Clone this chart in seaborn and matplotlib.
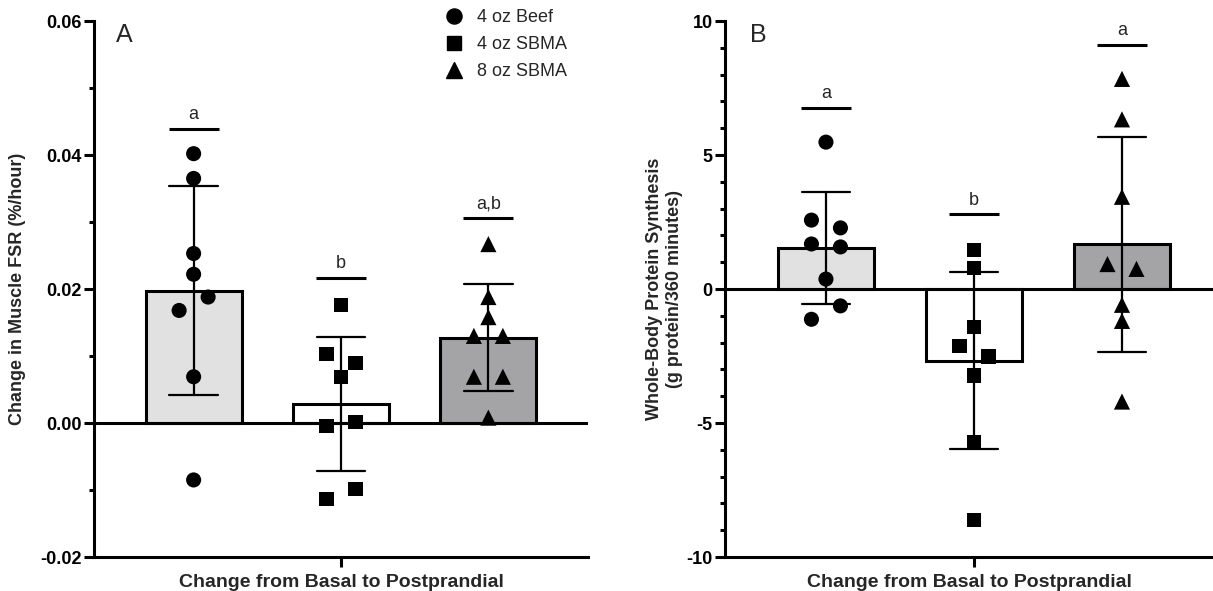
import numpy as np
import pandas as pd
import matplotlib
matplotlib.use("Agg")
import matplotlib.pyplot as plt
from matplotlib.ticker import MultipleLocator, FormatStrFormatter
from matplotlib.lines import Line2D
import seaborn as sns

# ---------------- data ----------------
groups = ["4 oz Beef", "4 oz SBMA", "8 oz SBMA"]

# Panel A: change in muscle FSR (%/hour)
fsr_beef = [0.0402, 0.0365, 0.0253, 0.0222, 0.0168, 0.0188, 0.0069, -0.0085]
fsr_sbma4 = [0.0176, 0.0103, 0.0090, 0.0069, -0.0004, 0.0002, -0.0113, -0.0098]
fsr_sbma8 = [0.0267, 0.0188, 0.0158, 0.0130, 0.0130, 0.0069, 0.0069, 0.0008]

# Panel B: whole-body protein synthesis (g protein/360 minutes)
wb_beef = [5.48, 2.57, 2.28, 1.68, 1.57, 0.37, -1.13, -0.63]
wb_sbma4 = [1.47, 0.77, -1.43, -2.12, -2.52, -3.23, -5.72, -8.63]
wb_sbma8 = [7.84, 6.33, 3.44, 0.93, 0.75, -0.59, -1.19, -4.20]

# significance letters and the height of their bars
letters_A = ["a", "b", "a,b"]
letter_y_A = [0.0439, 0.0217, 0.0306]
letters_B = ["a", "b", "a"]
letter_y_B = [6.76, 2.79, 9.12]

ylabel_A = "Change in Muscle FSR (%/hour)"
ylabel_B = "Whole-Body Protein Synthesis\n(g protein/360 minutes)"
xlabel = "Change from Basal to Postprandial"

# ---------------- style ----------------
sns.set_theme(style="ticks")
plt.rcParams["font.family"] = ["Liberation Sans", "DejaVu Sans"]
plt.rcParams["axes.unicode_minus"] = False

bar_colors = {"4 oz Beef": "#e1e1e1", "4 oz SBMA": "#ffffff", "8 oz SBMA": "#a4a4a7"}
markers = {"4 oz Beef": "o", "4 oz SBMA": "s", "8 oz SBMA": "^"}
msizes = {"4 oz Beef": 118, "4 oz SBMA": 104, "8 oz SBMA": 135}

W, H = 1213, 591
fig = plt.figure(figsize=(W / 100, H / 100), dpi=100)
fig.patch.set_facecolor("white")
axA = fig.add_axes([94 / W, 34 / H, 494 / W, 536 / H])
axB = fig.add_axes([725 / W, 34 / H, 488 / W, 536 / H])

LW = 2.2
MARK_PX = 14.5


def pair_offsets(vals, thresh):
    """Spread points that would overlap vertically into symmetric pairs."""
    order = sorted(range(len(vals)), key=lambda i: -vals[i])
    offs = [0.0] * len(vals)
    k = 0
    while k < len(order):
        i = order[k]
        if k + 1 < len(order) and abs(vals[i] - vals[order[k + 1]]) < thresh:
            j = order[k + 1]
            lo, hi = min(i, j), max(i, j)
            offs[lo], offs[hi] = -1.0, 1.0
            k += 2
        else:
            k += 1
    return offs


def panel(ax, series, ylim, xlim, major, minor, fmt, letters, letter_y, ylabel, label_x):
    df = pd.DataFrame({
        "group": np.repeat(groups, [len(s) for s in series]),
        "value": np.concatenate(series),
    })
    sns.barplot(data=df, x="group", y="value", hue="group", order=groups,
                hue_order=groups, palette=bar_colors, errorbar="sd",
                capsize=0.33, width=0.65, edgecolor="black", linewidth=LW,
                err_kws={"color": "black", "linewidth": 1.6, "zorder": 3},
                legend=False, ax=ax, zorder=1)
    ax.set_ylim(*ylim)
    ax.set_xlim(*xlim)
    fig.canvas.draw()
    bbox = ax.get_window_extent()
    px_per_y = bbox.height / (ylim[1] - ylim[0])
    px_per_x = bbox.width / (xlim[1] - xlim[0])
    for gi, (g, vals) in enumerate(zip(groups, series)):
        offs = pair_offsets(vals, MARK_PX / px_per_y)
        xs = [gi + o * (MARK_PX / px_per_x) for o in offs]
        ax.scatter(xs, vals, marker=markers[g], s=msizes[g], color="black",
                   edgecolors="none", zorder=5, clip_on=False)
    ax.axhline(0, color="black", linewidth=LW, zorder=2.5)
    for gi, (t, yv) in enumerate(zip(letters, letter_y)):
        ax.plot([gi - 0.17, gi + 0.17], [yv, yv], color="black", linewidth=LW,
                solid_capstyle="butt", zorder=4)
        ax.annotate(t, (gi, yv), xytext=(0, 4), textcoords="offset points",
                    ha="center", va="bottom", fontsize=13)
    sns.despine(ax=ax)
    for sp in ("left", "bottom"):
        ax.spines[sp].set_linewidth(LW)
        ax.spines[sp].set_color("black")
    ax.yaxis.set_major_locator(MultipleLocator(major))
    ax.yaxis.set_minor_locator(MultipleLocator(minor))
    ax.yaxis.set_major_formatter(FormatStrFormatter(fmt))
    ax.tick_params(axis="y", which="major", length=7, width=LW, pad=2,
                   labelsize=13, colors="black")
    ax.tick_params(axis="y", which="minor", length=3.6, width=LW, colors="black")
    ax.set_xticks([1])
    ax.set_xticklabels([""])
    ax.tick_params(axis="x", which="major", length=7, width=LW, colors="black")
    for lab in ax.get_yticklabels():
        lab.set_fontweight("bold")
    ax.set_xlabel(xlabel, fontsize=14, fontweight="bold", labelpad=2)
    ax.set_ylabel(ylabel, fontsize=13, fontweight="bold")
    ax.yaxis.set_label_coords(label_x, 0.5)
    ax.set_facecolor("white")


panel(axA, [fsr_beef, fsr_sbma4, fsr_sbma8], (-0.02, 0.06), (-0.676, 2.676),
      0.02, 0.01, "%.2f", letters_A, letter_y_A, ylabel_A, -0.137)
panel(axB, [wb_beef, wb_sbma4, wb_sbma8], (-10, 10), (-0.682, 2.615),
      5, 1, "%d", letters_B, letter_y_B, ylabel_B, -0.086)

axA.text(0.0445, 0.961, "A", transform=axA.transAxes, fontsize=18,
         ha="left", va="baseline")
axB.text(0.051, 0.961, "B", transform=axB.transAxes, fontsize=18,
         ha="left", va="baseline")

handles = [Line2D([], [], marker=markers[g], color="black", linestyle="none",
                  markersize=np.sqrt(msizes[g])) for g in groups]
axA.legend(handles, groups, loc="upper left", bbox_to_anchor=(0.71, 1.0225),
           frameon=False, fontsize=13, handlelength=1.0, handletextpad=0.8,
           labelspacing=0.56, borderpad=0, borderaxespad=0)

fig.savefig("out.png", dpi=100, facecolor="white")
